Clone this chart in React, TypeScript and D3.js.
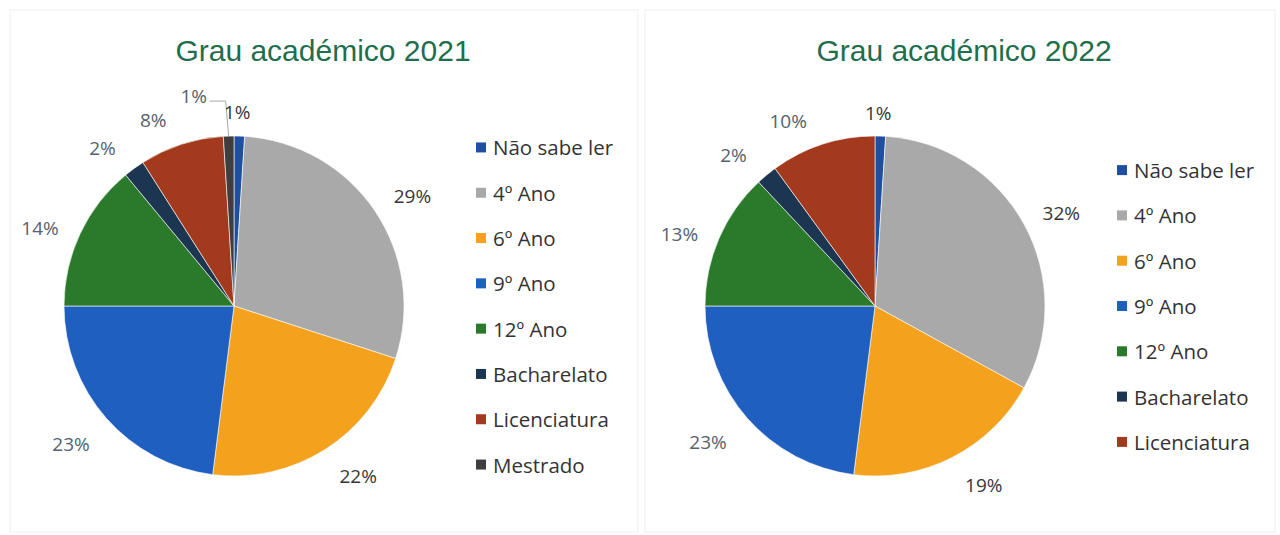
import * as d3 from "d3";

const W = 1280;
const H = 535;
const R = 170;

const categories2021 = ["Não sabe ler", "4º Ano", "6º Ano", "9º Ano", "12º Ano", "Bacharelato", "Licenciatura", "Mestrado"];
const values2021 = [1, 29, 22, 23, 14, 2, 8, 1];

const categories2022 = ["Não sabe ler", "4º Ano", "6º Ano", "9º Ano", "12º Ano", "Bacharelato", "Licenciatura"];
const values2022 = [1, 32, 19, 23, 13, 2, 10];

const colors: Record<string, string> = {
  "Não sabe ler": "#1f4fa0",
  "4º Ano": "#a9a9a9",
  "6º Ano": "#f4a21e",
  "9º Ano": "#1f5fc0",
  "12º Ano": "#2b7a2c",
  Bacharelato: "#1c3550",
  Licenciatura: "#a33a1e",
  Mestrado: "#3e3e3e",
};

// label nudges (px) from the r=200 anchor, keyed by category
const nudge2021: Record<string, [number, number]> = {
  "Não sabe ler": [-3, 6],
  "4º Ano": [13, 2],
  "6º Ano": [17, 1],
  "9º Ano": [-13, 6],
  "12º Ano": [-13, 7],
  Bacharelato: [-14, 4],
  Licenciatura: [-19, 4],
  Mestrado: [-34, -10],
};
const nudge2022: Record<string, [number, number]> = {
  "Não sabe ler": [-3, 7],
  "4º Ano": [11, 3],
  "6º Ano": [18, 1],
  "9º Ano": [-17, 4],
  "12º Ano": [-12, 7],
  Bacharelato: [-14, 3],
  Licenciatura: [-25, 5],
};

const FONT = "'Open Sans', 'Noto Sans', sans-serif";

type Datum = { cat: string; value: number };

function PieChart({
  title,
  categories,
  values,
  nudges,
  cx,
  cy,
  leader,
}: {
  title: string;
  categories: string[];
  values: number[];
  nudges: Record<string, [number, number]>;
  cx: number;
  cy: number;
  leader?: string;
}) {
  const data: Datum[] = categories.map((c, i) => ({ cat: c, value: values[i] }));
  const pie = d3.pie<Datum>().sort(null).value((d) => d.value);
  const arcs = pie(data);
  const arc = d3.arc<d3.PieArcDatum<Datum>>().innerRadius(0).outerRadius(R);
  const labelArc = d3.arc<d3.PieArcDatum<Datum>>().innerRadius(200).outerRadius(200);
  const edgeArc = d3.arc<d3.PieArcDatum<Datum>>().innerRadius(R).outerRadius(R);
  const spacing = 45.3;
  const legendY0 = cy - ((categories.length - 1) * spacing) / 2;

  return (
    <g>
      <text
        x={cx + 89}
        y={61}
        textAnchor="middle"
        fontFamily="'Liberation Sans', Arial, sans-serif"
        fontSize={30}
        fill="#1f6e4c"
      >
        {title}
      </text>
      <g transform={`translate(${cx},${cy})`}>
        {arcs.map((a) => (
          <path key={a.data.cat} d={arc(a) ?? ""} fill={colors[a.data.cat]} stroke="#ffffff" strokeWidth={0.6} />
        ))}
        {arcs
          .filter((a) => a.data.cat === leader)
          .map((a) => {
            const [bx, by] = labelArc.centroid(a);
            const [dx, dy] = nudges[a.data.cat];
            const [ex, ey] = edgeArc.centroid(a);
            const lx = bx + dx + 16;
            const ly = by + dy + 5;
            return (
              <polyline
                key="leader"
                points={`${lx},${ly} ${ex - 3},${ly} ${ex},${ey}`}
                fill="none"
                stroke="#a6a6a6"
                strokeWidth={1}
              />
            );
          })}
        {arcs.map((a) => {
          const [bx, by] = labelArc.centroid(a);
          const [dx, dy] = nudges[a.data.cat] ?? [0, 0];
          const x = bx + dx;
          const y = by + dy;
          const fill = x < 0 ? "#56616f" : "#363636";
          return (
            <text
              key={"l" + a.data.cat}
              x={x}
              y={y}
              textAnchor="middle"
              dominantBaseline="central"
              fontFamily={FONT}
              fontSize={19}
              fill={fill}
            >
              {a.data.value}%
            </text>
          );
        })}
      </g>
      <g transform={`translate(${cx + 242},${legendY0})`}>
        {categories.map((c, i) => (
          <g key={c} transform={`translate(0,${i * spacing})`}>
            <rect x={0} y={-5} width={10} height={10} fill={colors[c]} />
            <text x={17} y={0} dominantBaseline="central" fontFamily={FONT} fontSize={20.5} fill="#333333">
              {c}
            </text>
          </g>
        ))}
      </g>
    </g>
  );
}

export default function App() {
  return (
    <svg
      width={W}
      height={H}
      viewBox={`0 0 ${W} ${H}`}
      style={{ position: "absolute", left: 0, top: 0, background: "#ffffff" }}
    >
      <rect x={10} y={10} width={628} height={522} fill="#ffffff" stroke="#f5f5f5" strokeWidth={1.5} />
      <rect x={645} y={10} width={630} height={522} fill="#ffffff" stroke="#f5f5f5" strokeWidth={1.5} />
      <PieChart
        title="Grau académico 2021"
        categories={categories2021}
        values={values2021}
        nudges={nudge2021}
        cx={234}
        cy={306}
        leader="Mestrado"
      />
      <PieChart
        title="Grau académico 2022"
        categories={categories2022}
        values={values2022}
        nudges={nudge2022}
        cx={875}
        cy={306}
      />
    </svg>
  );
}
